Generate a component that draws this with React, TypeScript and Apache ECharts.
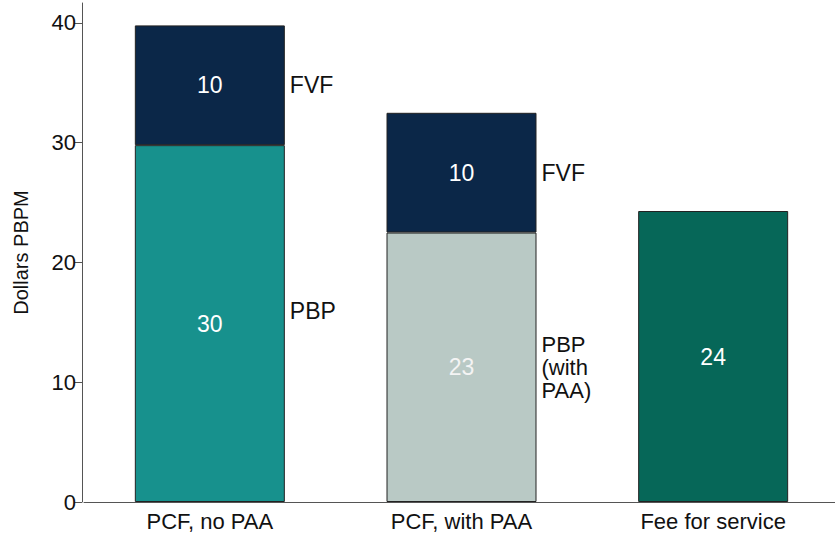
import React, { useEffect, useRef } from "react";
import * as echarts from "echarts";

const categories = ["PCF, no PAA", "PCF, with PAA", "Fee for service"];
const pbpValues = [29.8, null, null];
const pbpPaaValues = [null, 22.5, null];
const ffsValues = [null, null, 24.3];
const fvfValues = [10, 10, null];
const yTicks = [0, 10, 20, 30, 40];

const FONT = "Liberation Sans, Arial, sans-serif";

export default function App() {
  const ref = useRef<HTMLDivElement>(null);
  useEffect(() => {
    if (!ref.current) return;
    const chart = echarts.init(ref.current, null, { renderer: "svg" });
    const inside = (color: string) => ({
      show: true,
      position: "inside",
      color,
      fontSize: 23,
      fontFamily: FONT,
      formatter: (p: any) => (p.value == null ? "" : String(Math.round(p.value))),
    });
    const sideLabel = {
      show: true,
      position: "right",
      distance: 80,
      color: "#111",
      fontSize: 23,
      lineHeight: 23,
      fontFamily: FONT,
      align: "left",
    };
    const bases = categories.map((_, i) => (pbpValues[i] ?? 0) + (pbpPaaValues[i] ?? 0));
    const itemBorder = { borderColor: "#222", borderWidth: 1 };
    const option = {
      animation: false,
      textStyle: { fontFamily: FONT },
      grid: { left: 84, right: 0, top: 3, bottom: 31, containLabel: false },
      xAxis: {
        type: "category",
        data: categories,
        axisTick: { show: false },
        axisLine: { lineStyle: { color: "#555", width: 1 } },
        axisLabel: { color: "#111", fontSize: 22, margin: 8, fontFamily: FONT },
      },
      yAxis: {
        type: "value",
        min: 0,
        max: 41.67,
        interval: 10,
        offset: 2,
        name: "Dollars PBPM",
        nameLocation: "middle",
        nameGap: 51,
        nameTextStyle: { color: "#111", fontSize: 20, fontFamily: FONT },
        splitLine: { show: false },
        axisLine: { show: true, lineStyle: { color: "#555", width: 1 } },
        axisTick: { show: true, length: 8, lineStyle: { color: "#555" }, customValues: yTicks },
        axisLabel: {
          color: "#111",
          fontSize: 22,
          margin: 6,
          fontFamily: FONT,
          customValues: yTicks,
          formatter: (v: number) => (yTicks.includes(v) ? String(v) : ""),
        },
      },
      series: [
        {
          name: "PBP",
          type: "bar",
          stack: "total",
          barWidth: 150,
          data: pbpValues,
          itemStyle: { color: "#17918d", ...itemBorder },
          label: inside("#ffffff"),
          markPoint: {
            symbol: "rect",
            symbolSize: 0,
            label: { ...sideLabel, formatter: "PBP", offset: [0, -13] },
            data: pbpValues
              .map((v, i) => (v == null ? null : { coord: [categories[i], v / 2] }))
              .filter(Boolean),
          },
        },
        {
          name: "PBP (with PAA)",
          type: "bar",
          stack: "total",
          barWidth: 150,
          data: pbpPaaValues,
          itemStyle: { color: "#b9c9c5", ...itemBorder },
          label: inside("#f4f4f4"),
          markPoint: {
            symbol: "rect",
            symbolSize: 0,
            label: { ...sideLabel, fontSize: 22, lineHeight: 23, formatter: "PBP\n(with\nPAA)" },
            data: pbpPaaValues
              .map((v, i) => (v == null ? null : { coord: [categories[i], v / 2] }))
              .filter(Boolean),
          },
        },
        {
          name: "Fee for service",
          type: "bar",
          stack: "total",
          barWidth: 150,
          data: ffsValues,
          itemStyle: { color: "#066758", ...itemBorder },
          label: inside("#ffffff"),
        },
        {
          name: "FVF",
          type: "bar",
          stack: "total",
          barWidth: 150,
          data: fvfValues,
          itemStyle: { color: "#0b2748", ...itemBorder },
          label: inside("#ffffff"),
          markPoint: {
            symbol: "rect",
            symbolSize: 0,
            label: { ...sideLabel, formatter: "FVF" },
            data: fvfValues
              .map((v, i) => (v == null ? null : { coord: [categories[i], bases[i] + v / 2] }))
              .filter(Boolean),
          },
        },
      ],
    };
    chart.setOption(option as any);
    return () => chart.dispose();
  }, []);
  return (
    <div
      ref={ref}
      style={{ position: "fixed", left: 0, top: 0, width: 839, height: 533, background: "#fff" }}
    />
  );
}
